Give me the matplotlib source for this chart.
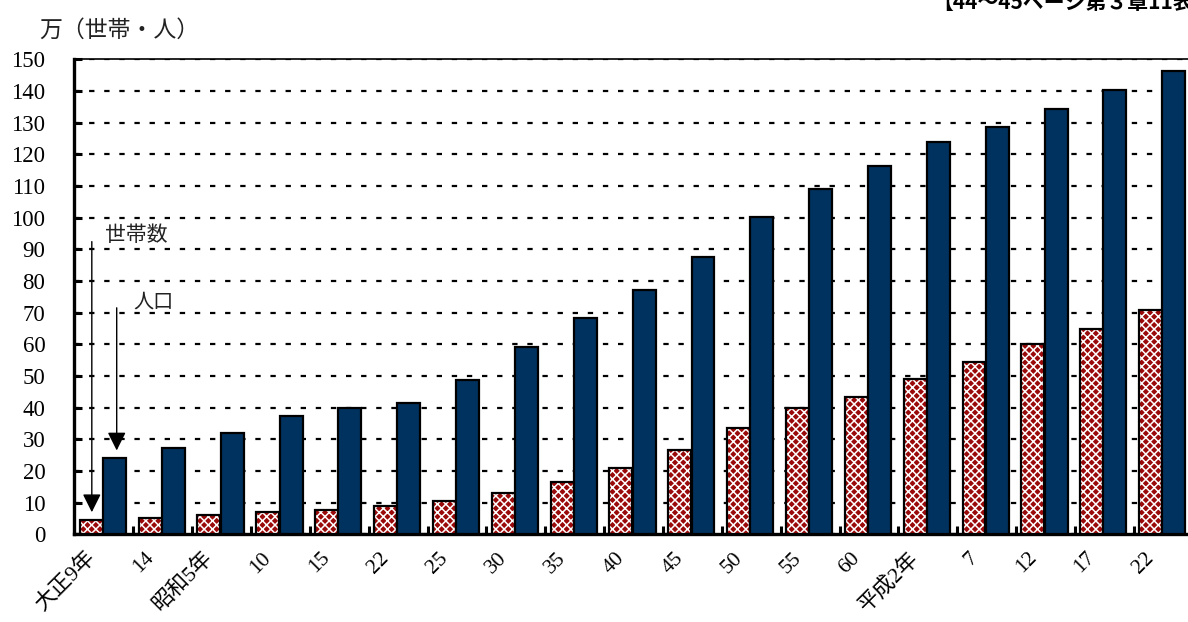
import numpy as np
import matplotlib
matplotlib.use('Agg')
import matplotlib.pyplot as plt

plt.rcParams['font.family'] = ['Liberation Serif', 'Noto Sans CJK JP']
plt.rcParams['hatch.linewidth'] = 1.1

# data (万世帯 / 万人)
labels = ['大正9年', '14', '昭和5年', '10', '15', '22', '25', '30', '35', '40',
          '45', '50', '55', '60', '平成2年', '7', '12', '17', '22']
households = [4.5, 5.2, 6.0, 6.9, 7.7, 9.0, 10.6, 13.0, 16.6, 21.0,
              26.5, 33.5, 39.8, 43.5, 49.1, 54.5, 60.1, 64.8, 70.8]
population = [24.0, 27.4, 32.1, 37.4, 39.8, 41.6, 48.8, 59.3, 68.4, 77.1,
              87.5, 100.3, 109.0, 116.3, 124.0, 128.7, 134.3, 140.3, 146.4]

x = np.arange(len(labels))
w = 0.39
red = '#9a0a0a'
navy = '#00325f'

fig = plt.figure(figsize=(11.88, 6.22), dpi=100)
ax = fig.add_axes([74.45 / 1188, 87.7 / 622, 1118.2 / 1188, 475 / 622])

# households: checkered red
ax.bar(x - 0.215, households, w, color=red, edgecolor='white', hatch='xxxx', lw=0, zorder=3)
ax.bar(x - 0.215, households, w, fill=False, edgecolor='black', lw=1.6, zorder=4)
# population: navy
ax.bar(x + 0.18, population, w, color=navy, edgecolor='black', lw=1.6, zorder=4)

ax.set_xlim(-0.5, len(labels) - 0.5)
ax.set_ylim(0, 150)
ax.set_yticks(np.arange(0, 151, 10))
ax.yaxis.grid(True, color='black', lw=1.6, linestyle=(0, (2.4, 4.4)))
ax.set_axisbelow(True)

ax.set_xticks(x - 0.2)
ax.set_xticklabels(labels)
ax.set_xticks(x[:-1] + 0.5, minor=True)
ax.tick_params(axis='x', which='major', length=0, pad=15, labelsize=15.5)
ax.tick_params(axis='x', which='minor', direction='in', length=6, width=2.2)
ax.tick_params(axis='y', direction='in', length=6, width=2.2, pad=21, labelsize=16.5)
for lab in ax.get_xticklabels():
    lab.set_rotation(45)
    lab.set_ha('right')
    lab.set_va('center')
    lab.set_rotation_mode('anchor')

ax.spines['left'].set_linewidth(2.4)
ax.spines['bottom'].set_linewidth(2.4)
ax.spines['top'].set_linewidth(1.2)
ax.spines['right'].set_visible(False)

# arrows
ax.annotate('', xy=(-0.205, 6.1), xytext=(-0.205, 93.3),
            arrowprops=dict(arrowstyle='-|>', color='black', lw=1, mutation_scale=28))
ax.annotate('', xy=(0.218, 25.6), xytext=(0.218, 72.4),
            arrowprops=dict(arrowstyle='-|>', color='black', lw=1, mutation_scale=28))
ax.text(0.02, 94.5, '世帯数', ha='left', va='center', fontsize=15,
        family=['Noto Sans CJK JP'], color='#222222')
ax.text(0.495, 73.4, '人口', ha='left', va='center', fontsize=14.5,
        family=['Noto Sans CJK JP'], color='#222222')

fig.text(39 / 1188, 1 - 30 / 622, '万（世帯・人）', ha='left', va='center',
         fontsize=16.5, family=['Noto Sans CJK JP'], color='#222222')
fig.text(932 / 1188, 1 - 2 / 622, '【44～45ページ第３章11表】', ha='left', va='center',
         fontsize=15, fontweight='bold', family=['Noto Sans CJK JP'])

fig.savefig('out.png', dpi=100)
